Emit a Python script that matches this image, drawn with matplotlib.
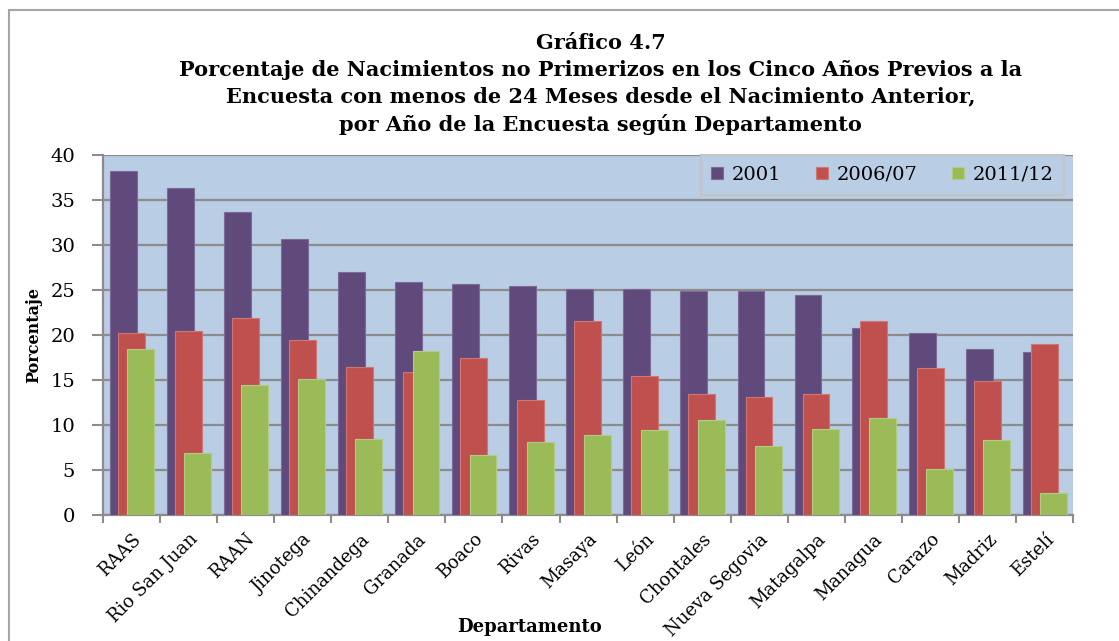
import matplotlib.pyplot as plt
import numpy as np
from matplotlib.patches import Rectangle

departamentos = ['RAAS', 'Rio San Juan', 'RAAN', 'Jinotega', 'Chinandega', 'Granada',
                 'Boaco', 'Rivas', 'Masaya', 'León', 'Chontales', 'Nueva Segovia',
                 'Matagalpa', 'Managua', 'Carazo', 'Madriz', 'Estelí']
v2001 = [38.2, 36.4, 33.7, 30.7, 27.0, 25.9, 25.7, 25.5, 25.1, 25.1, 24.9, 24.9, 24.5, 20.8, 20.2, 18.4, 18.1]
v2006 = [20.2, 20.4, 21.9, 19.4, 16.4, 15.9, 17.4, 12.8, 21.6, 15.5, 13.5, 13.1, 13.5, 21.6, 16.3, 14.9, 19.0]
v2011 = [18.4, 6.9, 14.5, 15.1, 8.4, 18.2, 6.7, 8.1, 8.9, 9.4, 10.6, 7.7, 9.6, 10.8, 5.1, 8.3, 2.4]
series = ['2001', '2006/07', '2011/12']

colores = ['#604A7B', '#C0504D', '#9BBB59']
bordes = ['#7D6A96', '#D07572', '#B3CC83']
serif = ['DejaVu Serif']
plt.rcParams['font.family'] = serif

fig = plt.figure(figsize=(11.19, 6.41), dpi=100)
ax = fig.add_axes([0.092, 0.1966, 0.867, 0.5614])
ax.set_facecolor('#B9CDE5')

x = np.arange(len(departamentos))
offsets = [-0.145, -0.005, 0.16]
w = 0.47
for vals, off, col, bc, lab in zip([v2001, v2006, v2011], offsets, colores, bordes, series):
    ax.bar(x + off, vals, width=w, color=col, edgecolor=bc, linewidth=0.8, label=lab, zorder=3)

ax.set_xlim(-0.5, len(departamentos) - 0.5)
ax.set_ylim(0, 40)
ax.set_yticks(range(0, 41, 5))
ax.yaxis.grid(True, color='#8C8C8C', linewidth=1.6, zorder=1)
ax.set_axisbelow(True)

ax.set_xticks(np.arange(-0.5, len(departamentos), 1))
ax.set_xticklabels([])
ax.set_xticks(x, minor=True)
ax.set_xticklabels(departamentos, minor=True, rotation=45, ha='right', rotation_mode='anchor',
                   fontsize=13)
ax.tick_params(axis='x', which='minor', length=0, pad=11)
ax.tick_params(axis='x', which='major', length=6, color='#8C8C8C', width=1.5)
ax.tick_params(axis='y', length=8, color='#8C8C8C', width=1.5, labelsize=14, pad=12)

for s in ['top', 'right']:
    ax.spines[s].set_visible(False)
for s in ['left', 'bottom']:
    ax.spines[s].set_color('#8C8C8C')
    ax.spines[s].set_linewidth(1.6)

ax.set_ylabel('Porcentaje', fontsize=11.5, fontweight='bold')
ax.yaxis.set_label_coords(-0.063, 0.5)
ax.set_xlabel('Departamento', fontsize=13, fontweight='bold')
ax.xaxis.set_label_coords(0.44, -0.311)
ax.xaxis.label.set_va('center')

leg = ax.legend(loc='upper right', ncol=3, prop={'size': 14},
                frameon=True, fancybox=False, edgecolor='#C4C4C4', facecolor='#B9CDE5',
                handlelength=0.6, handleheight=0.6, handletextpad=0.45, columnspacing=1.8,
                borderpad=0.55, borderaxespad=0, bbox_to_anchor=(0.991, 1.0))
leg.get_frame().set_linewidth(1.5)
leg.get_frame().set_alpha(1)

fig.text(0.537, 0.948, 'Gráfico 4.7\nPorcentaje de Nacimientos no Primerizos en los Cinco Años Previos a la\n'
         'Encuesta con menos de 24 Meses desde el Nacimiento Anterior,\npor Año de la Encuesta según Departamento',
         ha='center', va='top', fontsize=15, fontweight='bold', linespacing=1.42)

fig.patches.append(Rectangle((0.008, -0.01), 1.2, 0.995, transform=fig.transFigure,
                             fill=False, edgecolor='#A6A6A6', linewidth=1.5))

fig.savefig('out.png', dpi=100)
